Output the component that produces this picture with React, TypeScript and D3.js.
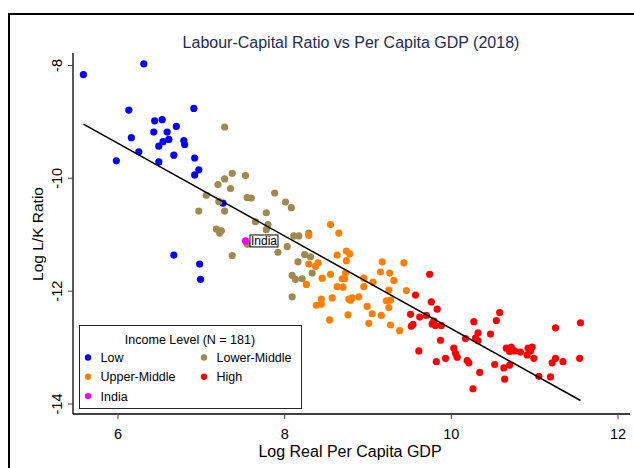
import React from "react";
import * as d3 from "d3";

// Log real per capita GDP (x) and Log L/K ratio (y), by income group
const lowX = [5.585, 6.31, 6.13, 6.91, 6.44, 6.53, 6.70, 6.43, 6.59, 6.16, 6.61, 6.54, 6.79, 6.80, 6.49, 6.25, 5.98, 6.49, 6.67, 6.92, 6.97, 6.92, 7.26, 6.67, 6.98, 6.99];
const lowY = [-8.16, -7.97, -8.79, -8.76, -8.98, -8.96, -9.08, -9.18, -9.18, -9.28, -9.31, -9.35, -9.33, -9.40, -9.43, -9.53, -9.69, -9.71, -9.59, -9.64, -9.85, -9.94, -10.44, -11.36, -11.52, -11.79];

const lowerMidX = [7.28, 7.20, 7.28, 7.37, 7.53, 7.35, 7.06, 7.21, 7.28, 6.97, 7.18, 7.24, 7.22, 7.37, 7.55, 7.55, 7.60, 7.88, 8.01, 8.08, 7.78, 7.65, 7.80, 7.78, 8.11, 8.17, 8.29, 8.03, 7.92, 8.24, 8.31, 8.16, 8.33, 8.09, 8.13, 8.21, 8.09];
const lowerMidY = [-9.09, -10.11, -10.01, -9.91, -9.95, -10.18, -10.30, -10.41, -10.58, -10.58, -10.90, -10.93, -10.97, -11.37, -11.17, -10.34, -10.35, -10.26, -10.42, -10.52, -10.61, -10.77, -10.82, -10.91, -11.02, -11.02, -10.97, -11.21, -11.31, -11.35, -11.39, -11.48, -11.68, -11.72, -11.79, -11.78, -12.10];

const upperMidX = [8.55, 8.65, 8.29, 8.63, 8.29, 8.37, 8.40, 8.55, 8.45, 8.26, 8.63, 8.44, 8.57, 8.74, 8.78, 8.74, 9.17, 9.43, 8.73, 8.69, 8.72, 9.15, 9.26, 8.95, 9.06, 9.31, 8.70, 8.95, 9.25, 9.46, 8.44, 8.38, 8.77, 8.81, 8.79, 8.89, 9.22, 9.27, 9.25, 8.99, 8.76, 9.05, 9.16, 8.54, 9.01, 9.27, 9.38];
const upperMidY = [-10.82, -10.97, -11.01, -11.36, -11.52, -11.56, -11.50, -11.70, -11.77, -11.88, -11.92, -12.14, -12.12, -11.29, -11.34, -11.46, -11.48, -11.50, -11.68, -11.78, -11.78, -11.66, -11.68, -11.77, -11.84, -11.81, -11.93, -11.92, -11.98, -11.99, -12.23, -12.25, -12.14, -12.12, -12.16, -12.10, -12.17, -12.16, -12.29, -12.27, -12.42, -12.40, -12.43, -12.51, -12.57, -12.60, -12.70];

const highX = [9.74, 9.57, 9.76, 9.83, 9.51, 9.62, 9.70, 9.79, 9.77, 9.81, 9.88, 9.54, 9.52, 9.87, 10.17, 9.61, 9.82, 9.93, 10.03, 10.05, 10.07, 10.19, 10.21, 10.27, 10.32, 10.29, 10.32, 10.34, 10.26, 10.47, 10.54, 10.58, 10.52, 10.63, 10.64, 10.66, 10.72, 10.70, 10.76, 10.70, 11.25, 11.55, 10.83, 10.92, 10.97, 10.95, 10.91, 10.99, 11.25, 11.21, 11.34, 11.54, 11.05, 11.19];
const highY = [-11.70, -12.07, -12.19, -12.32, -12.41, -12.46, -12.43, -12.53, -12.58, -12.61, -12.61, -12.59, -12.62, -12.87, -12.84, -13.06, -13.25, -13.19, -13.01, -13.10, -13.17, -13.23, -13.27, -12.54, -12.74, -12.83, -12.88, -13.44, -13.73, -12.76, -12.52, -12.38, -13.30, -13.36, -13.56, -13.01, -12.99, -13.07, -13.06, -13.31, -12.65, -12.56, -13.08, -13.01, -12.99, -13.06, -13.13, -13.19, -13.19, -13.27, -13.25, -13.19, -13.51, -13.52];

const indiaX = [7.53];
const indiaY = [-11.11];

// Linear fit coefficients
const fitIntercept = -4.455;
const fitSlope = -0.821;

const xTicks = [6, 8, 10, 12];
const yTicks = [-8, -10, -12, -14];

const groupNames = ["Low", "Lower-Middle", "Upper-Middle", "High", "India"];
const groupColors = ["#0000ff", "#9e8a4f", "#ff8000", "#ff0000", "#ff00ff"];

const FONT = "'Liberation Sans', Arial, Helvetica, sans-serif";

export default function App() {
  const x = d3.scaleLinear().domain([6, 12]).range([118, 618]);
  const y = d3.scaleLinear().domain([-8, -14]).range([65.5, 404]);

  const groups = [
    { xs: lowX, ys: lowY },
    { xs: lowerMidX, ys: lowerMidY },
    { xs: upperMidX, ys: upperMidY },
    { xs: highX, ys: highY },
    { xs: indiaX, ys: indiaY },
  ];

  const allX = [...lowX, ...lowerMidX, ...upperMidX, ...highX, ...indiaX];
  const [xmin, xmax] = d3.extent(allX) as [number, number];
  const fit = (v: number) => fitIntercept + fitSlope * v;
  const line = d3.line<number>().x((d) => x(d)).y((d) => y(fit(d)));

  const axisY = 414;
  const axisX = 73;

  const ix = x(indiaX[0]);
  const iy = y(indiaY[0]);

  const legendItems = [
    { name: groupNames[0], color: groupColors[0], col: 0, row: 0 },
    { name: groupNames[1], color: groupColors[1], col: 1, row: 0 },
    { name: groupNames[2], color: groupColors[2], col: 0, row: 1 },
    { name: groupNames[3], color: groupColors[3], col: 1, row: 1 },
    { name: groupNames[4], color: groupColors[4], col: 0, row: 2 },
  ];

  return (
    <svg
      width={634}
      height={468}
      style={{ position: "absolute", left: 0, top: 0, background: "#fff" }}
      fontFamily={FONT}
    >
      <rect x={0} y={0} width={634} height={468} fill="#fff" />
      <rect x={9} y={14} width={700} height={600} fill="none" stroke="#000" strokeWidth={2} />

      <text x={351} y={48} textAnchor="middle" fontSize={16} fill="#1e2b50">
        Labour-Capital Ratio vs Per Capita GDP (2018)
      </text>

      {/* axes */}
      <line x1={axisX} y1={53} x2={axisX} y2={axisY} stroke="#000" strokeWidth={1.3} />
      <line x1={axisX} y1={axisY} x2={630} y2={axisY} stroke="#000" strokeWidth={1.3} />
      {yTicks.map((t) => (
        <g key={"y" + t}>
          <line x1={axisX - 5} x2={axisX} y1={y(t)} y2={y(t)} stroke="#444" strokeWidth={1} />
          <text
            transform={`translate(${axisX - 11},${y(t)}) rotate(-90)`}
            textAnchor="middle"
            fontSize={14.5}
            fill="#000"
          >
            {t}
          </text>
        </g>
      ))}
      {xTicks.map((t) => (
        <g key={"x" + t}>
          <line x1={x(t)} x2={x(t)} y1={axisY} y2={axisY + 5} stroke="#444" strokeWidth={1} />
          <text x={x(t)} y={439} textAnchor="middle" fontSize={14.5} fill="#000">
            {t}
          </text>
        </g>
      ))}
      <text x={350} y={457} textAnchor="middle" fontSize={16} fill="#000">
        Log Real Per Capita GDP
      </text>
      <text transform="translate(43,234) rotate(-90)" textAnchor="middle" fontSize={15.5} fill="#000">
        Log L/K Ratio
      </text>

      {/* points */}
      {groups.map((g, gi) =>
        g.xs.map((v, i) => (
          <circle key={gi + "-" + i} cx={x(v)} cy={y(g.ys[i])} r={3.6} fill={groupColors[gi]} />
        ))
      )}

      {/* fit line */}
      <path d={line([xmin, xmax]) || ""} stroke="#000" strokeWidth={1.5} fill="none" />

      {/* India label */}
      <rect x={ix + 4.5} y={iy - 6} width={28} height={12} fill="#fff" stroke="#000" strokeWidth={1} />
      <text x={ix + 5.5} y={iy + 4.5} fontSize={12} fill="#000">
        India
      </text>

      {/* legend */}
      <rect x={79.5} y={325.5} width={222} height={83} fill="#fff" stroke="#222" strokeWidth={1} />
      <text x={190} y={344} textAnchor="middle" fontSize={12.5} fill="#000">
        Income Level (N = 181)
      </text>
      {legendItems.map((it) => {
        const mx = it.col === 0 ? 88 : 204;
        const my = 357.5 + it.row * 19.3;
        return (
          <g key={it.name}>
            <circle cx={mx} cy={my} r={3.2} fill={it.color} />
            <text x={mx + 12.5} y={my + 4.5} fontSize={12.5} fill="#000">
              {it.name}
            </text>
          </g>
        );
      })}
    </svg>
  );
}
